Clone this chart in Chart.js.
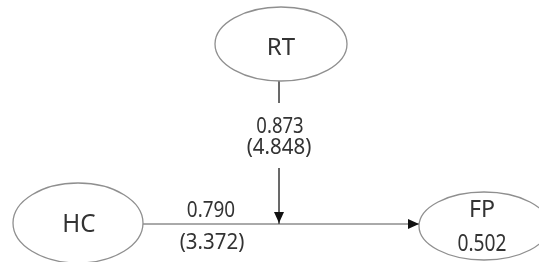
<!DOCTYPE html>
<html>
<head>
<meta charset="utf-8">
<script src="https://cdn.jsdelivr.net/npm/chart.js@4/dist/chart.umd.min.js"></script>
<style>
  html, body { margin: 0; padding: 0; background: #fff; }
  #wrap { width: 539px; height: 262px; }
</style>
</head>
<body>
<div id="wrap"><canvas id="js-chart"></canvas></div>
<script>
// model values
const nodeNames = ["RT", "HC", "FP"];
const nodeR2 = [null, null, 0.502];
const pathFrom = ["HC", "RT"];
const pathTo = ["FP", "HC->FP"];
const pathCoef = [0.790, 0.873];
const pathT = [3.372, 4.848];

// layout (pixel-like units on a 539 x 262 scale)
// h = cap/digit height, w = ink width, base = baseline
const layout = {
  RT: { x: 281, y: 44, rx: 66, ry: 37, label: { x: 281, base: 55, h: 17.5, w: 27 } },
  HC: { x: 78, y: 223, rx: 65, ry: 40, label: { x: 79, base: 232, h: 19, w: 31 } },
  FP: { x: 484, y: 226, rx: 65, ry: 34, label: { x: 482, base: 217, h: 17, w: 23 } },
};
const r2Box = { x: 482, base: 251, h: 17, w: 48 };
const coefBox = [
  { x: 211, base: 217, h: 16, w: 47 },
  { x: 280, base: 133, h: 16, w: 46 },
];
const tBox = [
  { x: 212, base: 249, h: 16, w: 64 },
  { x: 279, base: 154, h: 16, w: 64 },
];
const pathY = 224;
const modX = 279;

const lineColor = "#555";
const textColor = "#333";
const font = "'Noto Sans', sans-serif";

const hc = layout.HC, fp = layout.FP, rt = layout.RT;

const datasets = [
  // HC -> FP
  { data: [{ x: hc.x + hc.rx, y: pathY }, { x: fp.x - fp.rx, y: pathY }] },
  // RT stub above coefficient
  { data: [{ x: modX, y: rt.y + rt.ry }, { x: modX, y: 103 }] },
  // arrow to the HC -> FP path
  { data: [{ x: modX, y: 168 }, { x: modX, y: pathY }] },
].map((d) => ({
  ...d,
  showLine: true,
  borderColor: lineColor,
  borderWidth: 1,
  pointRadius: 0,
  fill: false,
}));

// draw text so its cap height and ink width match the box
function fitText(ctx, text, cx, base, box) {
  ctx.font = "100px " + font;
  const ref = ctx.measureText("H0").actualBoundingBoxAscent;
  const size = (100 * box.h) / ref;
  ctx.font = size + "px " + font;
  const m = ctx.measureText(text);
  const ink = m.actualBoundingBoxLeft + m.actualBoundingBoxRight;
  const sx = box.w / ink;
  ctx.save();
  ctx.translate(cx, base);
  ctx.scale(sx, 1);
  ctx.textAlign = "center";
  ctx.textBaseline = "alphabetic";
  ctx.fillText(text, 0, 0);
  ctx.restore();
}

const diagramPlugin = {
  id: "diagram",
  afterDatasetsDraw(chart) {
    const { ctx, scales } = chart;
    const px = (v) => scales.x.getPixelForValue(v);
    const py = (v) => scales.y.getPixelForValue(v);
    ctx.save();

    // nodes
    nodeNames.forEach((name, i) => {
      const n = layout[name];
      const cx = px(n.x), cy = py(n.y);
      const rx = Math.abs(px(n.x + n.rx) - cx);
      const ry = Math.abs(py(n.y + n.ry) - cy);
      ctx.beginPath();
      ctx.ellipse(cx, cy, rx, ry, 0, 0, Math.PI * 2);
      ctx.fillStyle = "#fff";
      ctx.fill();
      ctx.strokeStyle = "#8f8f8f";
      ctx.lineWidth = 1.3;
      ctx.stroke();

      ctx.fillStyle = textColor;
      fitText(ctx, name, px(n.label.x), py(n.label.base), n.label);
      if (nodeR2[i] != null) {
        fitText(ctx, nodeR2[i].toFixed(3), px(r2Box.x), py(r2Box.base), r2Box);
      }
    });

    // arrowheads
    const arrow = (x, y, dir) => {
      const X = px(x), Y = py(y);
      ctx.beginPath();
      if (dir === "down") {
        ctx.moveTo(X, Y);
        ctx.lineTo(X - 5, Y - 11);
        ctx.lineTo(X + 5, Y - 11);
      } else {
        ctx.moveTo(X, Y);
        ctx.lineTo(X - 11, Y - 5);
        ctx.lineTo(X - 11, Y + 5);
      }
      ctx.closePath();
      ctx.fillStyle = "#111";
      ctx.fill();
    };
    arrow(modX, pathY - 1, "down");
    arrow(fp.x - fp.rx, pathY, "right");

    // path coefficients with t-values
    ctx.fillStyle = textColor;
    pathCoef.forEach((c, i) => {
      const a = coefBox[i], b = tBox[i];
      fitText(ctx, c.toFixed(3), px(a.x), py(a.base), a);
      fitText(ctx, "(" + pathT[i].toFixed(3) + ")", px(b.x), py(b.base), b);
    });

    ctx.restore();
  },
};

new Chart(document.getElementById("js-chart"), {
  type: "scatter",
  data: { datasets },
  options: {
    responsive: true,
    maintainAspectRatio: false,
    animation: false,
    layout: { padding: 0 },
    plugins: { legend: { display: false }, tooltip: { enabled: false } },
    scales: {
      x: { type: "linear", min: 0, max: 539, display: false },
      y: { type: "linear", min: 0, max: 262, reverse: true, display: false },
    },
  },
  plugins: [diagramPlugin],
});
</script>
</body>
</html>
